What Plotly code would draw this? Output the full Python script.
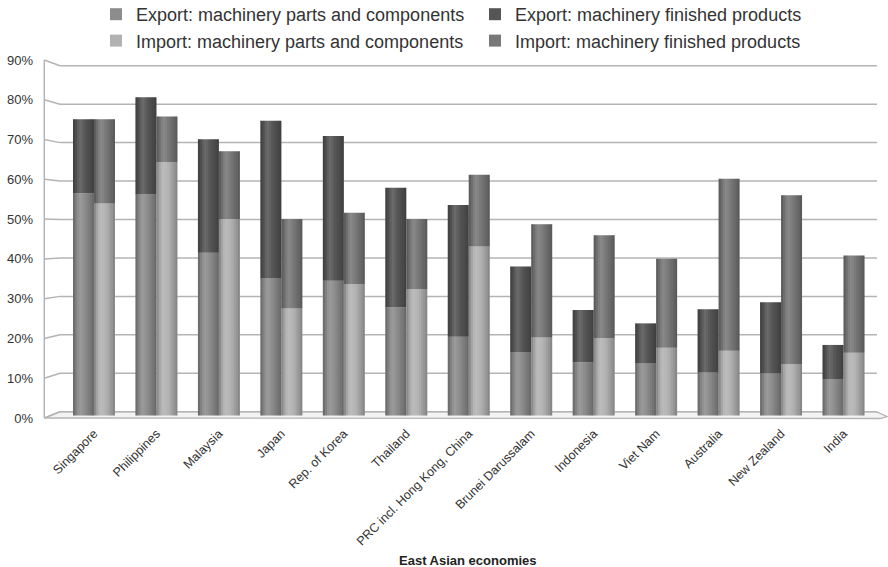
import plotly.graph_objects as go

# Share of machinery in total trade, by economy (percent)
ECONOMIES = [
    "Singapore", "Philippines", "Malaysia", "Japan", "Rep. of Korea", "Thailand",
    "PRC incl. Hong Kong, China", "Brunei Darussalam", "Indonesia", "Viet Nam",
    "Australia", "New Zealand", "India",
]
EXPORT_PARTS = [56.7, 56.4, 41.5, 35.1, 34.4, 27.6, 20.1, 16.2, 13.6, 13.3, 11.0, 10.8, 9.3]
EXPORT_FINISHED = [18.9, 24.8, 29.0, 40.1, 36.9, 30.5, 33.6, 21.8, 13.3, 10.2, 16.1, 18.1, 8.7]
IMPORT_PARTS = [54.1, 64.6, 50.1, 27.3, 33.5, 32.2, 43.1, 19.9, 19.7, 17.3, 16.5, 13.1, 16.0]
IMPORT_FINISHED = [21.5, 11.7, 17.3, 22.8, 18.2, 17.9, 18.3, 28.9, 26.3, 22.7, 43.9, 43.1, 24.8]
Y_TICKS = [0, 10, 20, 30, 40, 50, 60, 70, 80, 90]
Y_TICK_TEXT = [f"{v}%" for v in Y_TICKS]

# ---- page geometry (pixels) ----
W, H = 888, 567
ML, MR, MT, MB = 60, 10, 55, 144
PLOT_W, PLOT_H = W - ML - MR, H - MT - MB
ZERO_PX, PX_PER_PCT = 415.5, 3.92          # bar baseline and vertical scale


def y_data(py):
    return (ZERO_PX - py) / PX_PER_PCT


def xp(px):
    return (px - ML) / PLOT_W


def yp(py):
    return (H - MB - py) / PLOT_H


# back wall / front edge of the pseudo-3D box
def back_px(v):
    return 411.7 - v * 3.844


def front_px(v):
    return 418.0 - v * 3.978


BAR_W = 0.336
GRID = "#b4b4b4"

fig = go.Figure()

series = [
    ("Export: machinery parts and components", EXPORT_PARTS, None, "#8c8c8c", -BAR_W),
    ("Export: machinery finished products", EXPORT_FINISHED, EXPORT_PARTS, "#565656", -BAR_W),
    ("Import: machinery parts and components", IMPORT_PARTS, None, "#b2b2b2", 0.0),
    ("Import: machinery finished products", IMPORT_FINISHED, IMPORT_PARTS, "#787878", 0.0),
]

for name, vals, base, color, off in series:
    fig.add_trace(go.Bar(
        name=name, x=ECONOMIES, y=vals, base=base if base else [0] * len(vals),
        offset=off, width=BAR_W, marker=dict(color=color, line=dict(width=0)),
        hovertemplate="%{x}<br>" + name + ": %{y:.1f}%<extra></extra>",
    ))

# cylindrical shading: thin strips lightening / darkening across each column
SHADE = [-0.22, -0.08, 0.06, 0.12, 0.08, 0.02, -0.04, -0.10, -0.16, -0.24]
n = len(SHADE)
for name, vals, base, color, off in series:
    for i, s in enumerate(SHADE):
        rgba = f"rgba(255,255,255,{s:.2f})" if s > 0 else f"rgba(0,0,0,{-s:.2f})"
        fig.add_trace(go.Bar(
            x=ECONOMIES, y=vals, base=base if base else [0] * len(vals),
            offset=off + BAR_W * i / n, width=BAR_W / n,
            marker=dict(color=rgba, line=dict(width=0)),
            showlegend=False, hoverinfo="skip",
        ))

shapes = []
# floor slab
shapes.append(dict(
    type="path", xref="paper", yref="paper", layer="below",
    path=(f"M{xp(44.3)},{yp(418)} L{xp(60)},{yp(411.7)} L{xp(876)},{yp(411.7)} "
          f"L{xp(887)},{yp(416.5)} L{xp(880)},{yp(418.5)} Z"),
    fillcolor="#f3f3f3", line=dict(color=GRID, width=1.3),
))
# back-wall gridlines with their connectors to the front axis
for v in Y_TICKS:
    shapes.append(dict(type="line", xref="paper", yref="paper", layer="below",
                       x0=xp(60), x1=xp(877), y0=yp(back_px(v)), y1=yp(back_px(v)),
                       line=dict(color=GRID, width=1.5)))
    shapes.append(dict(type="line", xref="paper", yref="paper", layer="below",
                       x0=xp(44.3), x1=xp(60), y0=yp(front_px(v)), y1=yp(back_px(v)),
                       line=dict(color=GRID, width=1.5)))
# front vertical axis
shapes.append(dict(type="line", xref="paper", yref="paper", layer="below",
                   x0=xp(44.3), x1=xp(44.3), y0=yp(front_px(90)), y1=yp(front_px(0)),
                   line=dict(color=GRID, width=1.5)))

fig.update_layout(
    width=W, height=H,
    margin=dict(l=ML, r=MR, t=MT, b=MB, autoexpand=False),
    paper_bgcolor="white", plot_bgcolor="rgba(0,0,0,0)",
    barmode="overlay",
    font=dict(family="Liberation Sans, Arial, sans-serif", color="#333333"),
    shapes=shapes,
    showlegend=True,
    legend=dict(
        orientation="h", x=xp(96), xanchor="left", y=yp(-4), yanchor="top",
        entrywidth=334, entrywidthmode="pixels", traceorder="normal",
        font=dict(size=18, color="#333333"), bgcolor="rgba(0,0,0,0)",
        itemclick=False, itemdoubleclick=False,
    ),
    xaxis=dict(
        type="category", range=[-0.544, 12.552], showgrid=False, showline=False,
        zeroline=False, ticks="", tickangle=-45, tickfont=dict(size=12.5, color="#333333"),
        automargin=False,
    ),
    yaxis=dict(
        range=[y_data(H - MB), y_data(MT)], showgrid=False, zeroline=False, showline=False,
        tickmode="array", tickvals=[y_data(front_px(v)) for v in Y_TICKS], ticktext=Y_TICK_TEXT,
        ticks="", ticklabelstandoff=26, tickfont=dict(size=13, color="#333333"),
        automargin=False,
    ),
    annotations=[dict(
        text="<b>East Asian economies</b>", xref="paper", yref="paper",
        x=xp(468), y=yp(560), xanchor="center", yanchor="middle", showarrow=False,
        font=dict(size=13, color="#222222"),
    )],
)

fig.write_html("out.html")
